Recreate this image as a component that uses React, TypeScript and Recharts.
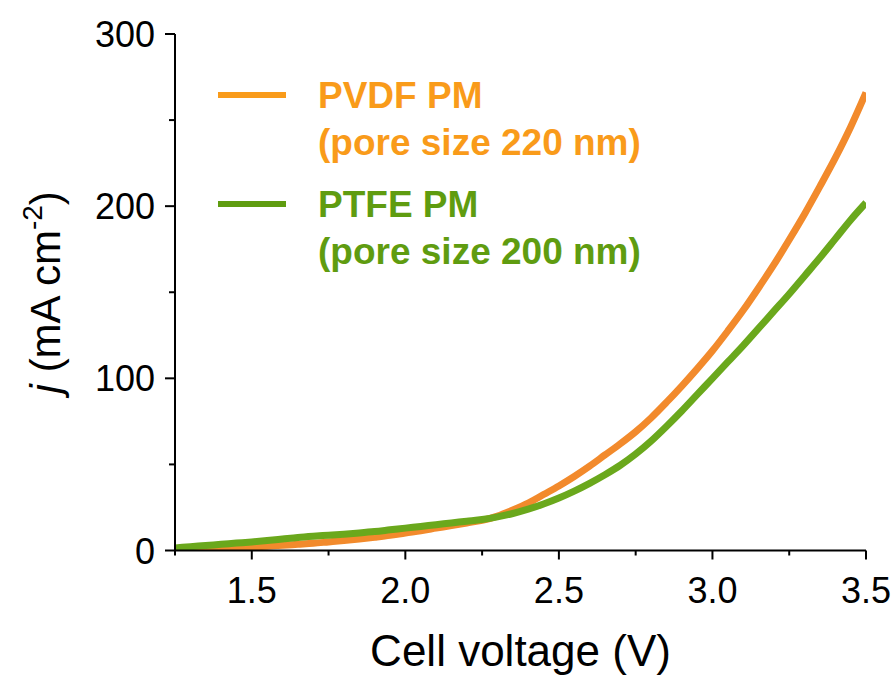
import { Line, LineChart, XAxis, YAxis } from "recharts";

const FONT = "'Liberation Sans', Arial, sans-serif";

// cell voltage (V)
const volts = [
  1.25, 1.3, 1.35, 1.4, 1.45, 1.5, 1.55, 1.6, 1.65, 1.7, 1.75, 1.8, 1.85, 1.9, 1.95,
  2.0, 2.05, 2.1, 2.15, 2.2, 2.25, 2.3, 2.35, 2.4, 2.45, 2.5, 2.55, 2.6, 2.65, 2.7,
  2.75, 2.8, 2.85, 2.9, 2.95, 3.0, 3.05, 3.1, 3.15, 3.2, 3.25, 3.3, 3.35, 3.4, 3.45, 3.5,
];

// j (mA cm-2), PVDF membrane
const pvdf = [
  0.5, 0.8, 1.0, 1.3, 1.6, 2.0, 2.5, 3.0, 3.6, 4.2, 5.0, 5.8, 6.7, 7.7, 8.8,
  10.2, 11.5, 13.0, 14.5, 16.0, 17.5, 20.0, 23.5, 27.5, 32.5, 37.5, 43, 49, 55.5, 62,
  69, 77, 86, 95.5, 105.5, 116, 127.5, 139.5, 152.5, 166, 180.5, 195.5, 211.5, 228, 246, 266,
];

// j (mA cm-2), PTFE membrane
const ptfe = [
  1.5, 2.2, 2.9, 3.6, 4.3, 5.0, 5.8, 6.7, 7.6, 8.3, 8.9, 9.5, 10.2, 11.0, 12.0,
  13.0, 14.0, 15.0, 16.0, 17.0, 18.0, 19.5, 21.5, 24, 27, 30.5, 34.5, 39, 44, 49.5,
  56, 63.5, 72, 81, 90.5, 100, 109.5, 119, 129, 139, 149, 159.5, 170, 181, 192, 202,
];

const xTicks = [1.25, 1.5, 1.75, 2.0, 2.25, 2.5, 2.75, 3.0, 3.25, 3.5];
const yTicks = [0, 50, 100, 150, 200, 250, 300];

const seriesNames = ["PVDF PM", "PTFE PM"];
const poreLabels = ["(pore size 220 nm)", "(pore size 200 nm)"];
const lineColors = ["#F28A2C", "#6AA81C"];
const legendColors = ["#F99B1A", "#5F9C10"];

const rows = volts.map((v, i) => ({ v, pvdf: pvdf[i], ptfe: ptfe[i] }));

function XTick({ x, y, payload }: any) {
  const v = payload.value as number;
  const major = Math.abs(v * 2 - Math.round(v * 2)) < 1e-6;
  return (
    <g>
      <line x1={x} x2={x} y1={y} y2={y + (major ? 9 : 5)} stroke="#000" strokeWidth={2} />
      {major && (
        <text x={x} y={y + 52} textAnchor="middle" fontSize={36} fontFamily={FONT} fill="#000">
          {v.toFixed(1)}
        </text>
      )}
    </g>
  );
}

function YTick({ x, y, payload }: any) {
  const v = payload.value as number;
  const major = v % 100 === 0;
  return (
    <g>
      <line x1={x - (major ? 10 : 6)} x2={x} y1={y} y2={y} stroke="#000" strokeWidth={2} />
      {major && (
        <text x={x - 20} y={y + 13} textAnchor="end" fontSize={36} fontFamily={FONT} fill="#000">
          {v}
        </text>
      )}
    </g>
  );
}

function XTitle({ viewBox }: any) {
  return (
    <text
      x={viewBox.x + viewBox.width / 2}
      y={666}
      textAnchor="middle"
      fontSize={44}
      fontFamily={FONT}
      fill="#000"
    >
      Cell voltage (V)
    </text>
  );
}

function YTitle({ viewBox }: any) {
  const cy = viewBox.y + viewBox.height / 2;
  return (
    <text
      transform={`translate(60, ${cy}) rotate(-90)`}
      textAnchor="middle"
      fontSize={42}
      fontFamily={FONT}
      fill="#000"
    >
      <tspan fontStyle="italic">j</tspan>
      <tspan> (mA cm</tspan>
      <tspan fontSize={28} dy={-18}>-2</tspan>
      <tspan dy={18}>)</tspan>
    </text>
  );
}

function LegendBlock() {
  const tops = [95, 204];
  return (
    <g>
      {seriesNames.map((name, i) => (
        <g key={name}>
          <line x1={218} x2={286} y1={tops[i]} y2={tops[i]} stroke={legendColors[i]} strokeWidth={6} />
          <text x={318} y={tops[i] + 13} fontSize={37} fontWeight="bold" fontFamily={FONT} fill={legendColors[i]}>
            {name}
          </text>
          <text x={318} y={tops[i] + 60} fontSize={37} fontWeight="bold" fontFamily={FONT} fill={legendColors[i]}>
            {poreLabels[i]}
          </text>
        </g>
      ))}
    </g>
  );
}

export default function App() {
  return (
    <div style={{ position: "absolute", left: 0, top: 0, background: "#fff" }}>
      <LineChart width={896} height={675} data={rows} margin={{ top: 34, right: 30, bottom: 0, left: 0 }}>
        <XAxis
          dataKey="v"
          type="number"
          domain={[1.25, 3.5]}
          ticks={xTicks}
          interval={0}
          height={124.5}
          tickSize={0}
          tickMargin={0}
          tick={<XTick />}
          axisLine={{ stroke: "#000", strokeWidth: 2 }}
          allowDataOverflow
          label={<XTitle />}
        />
        <XAxis
          xAxisId="top"
          orientation="top"
          dataKey="v"
          type="number"
          domain={[1.25, 3.5]}
          height={0}
          tick={false}
          tickLine={false}
          axisLine={{ stroke: "#000", strokeWidth: 2 }}
        />
        <YAxis
          type="number"
          domain={[0, 300]}
          ticks={yTicks}
          interval={0}
          width={175}
          tickSize={0}
          tickMargin={0}
          tick={<YTick />}
          axisLine={{ stroke: "#000", strokeWidth: 2 }}
          allowDataOverflow
          label={<YTitle />}
        />
        <YAxis
          yAxisId="right"
          orientation="right"
          type="number"
          domain={[0, 300]}
          width={0}
          tick={false}
          tickLine={false}
          axisLine={{ stroke: "#000", strokeWidth: 2 }}
        />
        <Line
          dataKey="pvdf"
          type="monotone"
          stroke={lineColors[0]}
          strokeWidth={7}
          dot={false}
          isAnimationActive={false}
        />
        <Line
          dataKey="ptfe"
          type="monotone"
          stroke={lineColors[1]}
          strokeWidth={7}
          dot={false}
          isAnimationActive={false}
        />
        <LegendBlock />
      </LineChart>
    </div>
  );
}
